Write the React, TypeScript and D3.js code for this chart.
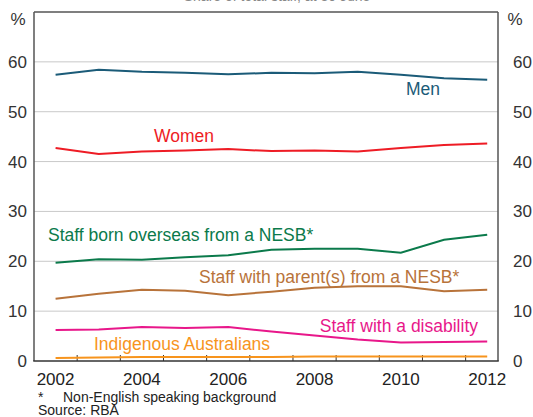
import React from "react";
import * as d3 from "d3";

const years = [2002, 2003, 2004, 2005, 2006, 2007, 2008, 2009, 2010, 2011, 2012];
const men = [57.4, 58.4, 58.0, 57.8, 57.5, 57.8, 57.7, 58.0, 57.4, 56.7, 56.4];
const women = [42.7, 41.5, 42.0, 42.2, 42.5, 42.1, 42.2, 42.0, 42.7, 43.3, 43.6];
const bornOverseas = [19.7, 20.4, 20.3, 20.8, 21.2, 22.3, 22.5, 22.5, 21.7, 24.3, 25.3];
const parentsNesb = [12.5, 13.5, 14.3, 14.1, 13.2, 13.9, 14.7, 15.0, 15.0, 14.0, 14.3];
const disability = [6.2, 6.3, 6.8, 6.6, 6.8, 5.9, 5.1, 4.3, 3.7, 3.8, 3.9];
const indigenous = [0.6, 0.7, 0.8, 0.8, 0.8, 0.8, 0.9, 0.9, 0.9, 0.9, 0.9];

const yTicks = [0, 10, 20, 30, 40, 50, 60];
const xLabelYears = [2002, 2004, 2006, 2008, 2010, 2012];
const xTickYears = [2003, 2004, 2005, 2006, 2007, 2008, 2009, 2010, 2011, 2012];

const seriesList = [
  { name: "Men", values: men, color: "#1b5b78", lx: 423, ly: 95, anchor: "middle" },
  { name: "Women", values: women, color: "#ee1c25", lx: 184, ly: 142, anchor: "middle" },
  { name: "Staff born overseas from a NESB*", values: bornOverseas, color: "#0b7a4b", lx: 48, ly: 241, anchor: "start" },
  { name: "Staff with parent(s) from a NESB*", values: parentsNesb, color: "#b8733a", lx: 199, ly: 283, anchor: "start" },
  { name: "Staff with a disability", values: disability, color: "#e8178a", lx: 478, ly: 332, anchor: "end" },
  { name: "Indigenous Australians", values: indigenous, color: "#f7941d", lx: 94, ly: 350, anchor: "start" },
];

const L = 34, R = 498, T = 12, B = 361;
const font = "Liberation Sans, Arial, Helvetica, sans-serif";

export default function App() {
  const x = d3.scaleLinear().domain([2002, 2012.75]).range([L, R]);
  const y = d3.scaleLinear().domain([0, 70]).range([B, T]);
  const line = d3
    .line<number>()
    .x((_, i) => x(years[i] + 0.5))
    .y((d) => y(d));

  return (
    <svg
      width={533}
      height={417}
      style={{ position: "absolute", left: 0, top: 0, background: "#fff" }}
      fontFamily={font}
    >
      <rect x={0} y={0} width={533} height={417} fill="#fff" />
      <text x={277} y={1} textAnchor="middle" fontSize={14} fill="#888">
        Share of total staff, at 30 June
      </text>
      {yTicks
        .filter((t) => t > 0)
        .map((t) => (
          <line key={"g" + t} x1={L} x2={R} y1={y(t)} y2={y(t)} stroke="#c9c9c9" strokeWidth={1} />
        ))}
      {xTickYears.map((yr) => (
        <line key={"xt" + yr} x1={x(yr)} x2={x(yr)} y1={B} y2={B - 6} stroke="#333" strokeWidth={1} />
      ))}
      {seriesList.map((s) => (
        <path key={s.name} d={line(s.values) || ""} fill="none" stroke={s.color} strokeWidth={2} />
      ))}
      <line x1={L} x2={L} y1={T} y2={B} stroke="#555" strokeWidth={1.5} />
      <line x1={R} x2={R} y1={T} y2={B} stroke="#555" strokeWidth={1.5} />
      <line x1={L} x2={R} y1={T} y2={T} stroke="#555" strokeWidth={1.5} />
      <line x1={L - 0.75} x2={R + 0.75} y1={B} y2={B} stroke="#333" strokeWidth={1.5} />
      {yTicks.map((t) => (
        <g key={"yl" + t}>
          <text x={27} y={y(t) + 6} textAnchor="end" fontSize={17} fill="#333">
            {t}
          </text>
          <text x={513} y={y(t) + 6} textAnchor="start" fontSize={17} fill="#333">
            {t}
          </text>
        </g>
      ))}
      <text x={18} y={25} textAnchor="middle" fontSize={17} fill="#333">%</text>
      <text x={515} y={25} textAnchor="middle" fontSize={17} fill="#333">%</text>
      {xLabelYears.map((yr) => (
        <text key={"xl" + yr} x={x(yr + 0.5)} y={385} textAnchor="middle" fontSize={17} fill="#222">
          {yr}
        </text>
      ))}
      {seriesList.map((s) => (
        <text
          key={"lab" + s.name}
          x={s.lx}
          y={s.ly}
          textAnchor={s.anchor as any}
          fontSize={17.5}
          fill={s.color}
        >
          {s.name}
        </text>
      ))}
      <text x={38} y={402} fontSize={14} fill="#222">*</text>
      <text x={63} y={402} fontSize={14} fill="#222">Non-English speaking background</text>
      <text x={38} y={415} fontSize={14} fill="#222">Source: RBA</text>
    </svg>
  );
}
